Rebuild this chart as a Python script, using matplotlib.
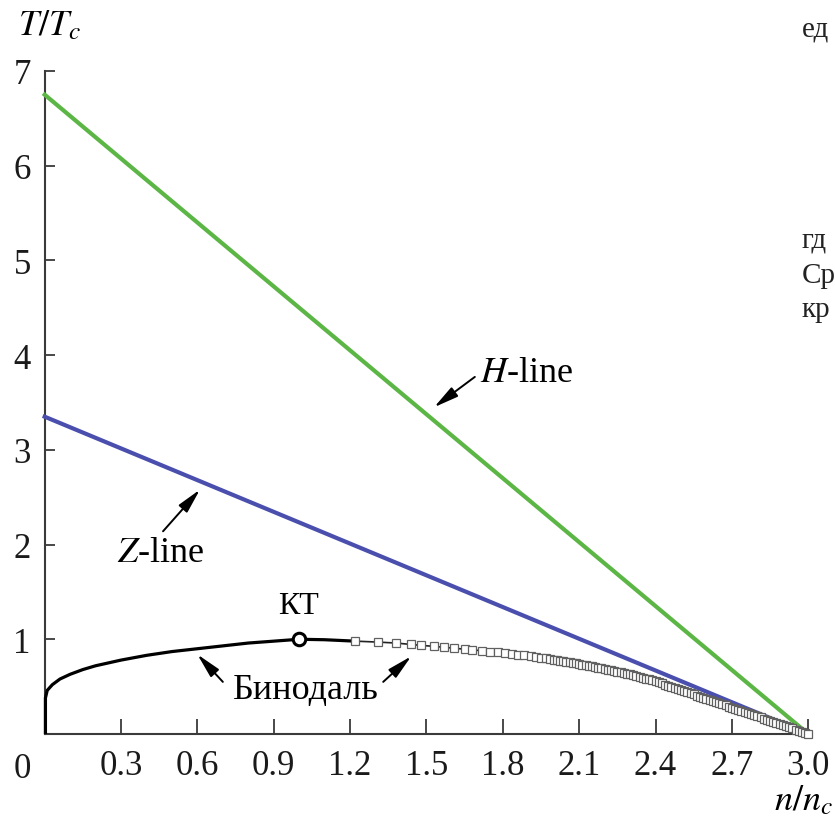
import matplotlib
matplotlib.use('Agg')
import matplotlib.pyplot as plt

plt.rcParams['mathtext.fontset'] = 'stix'
plt.rcParams['font.family'] = ['Liberation Serif', 'DejaVu Serif']

# H-line und Z-line (Geraden bis n/n_c = 3)
h_x = [0.0, 3.0]
h_y = [6.75, 0.0]
z_x = [0.0, 3.0]
z_y = [3.35, 0.0]

# Binodale, durchgezogener Teil
bin_x = [0.003, 0.003, 0.01, 0.03, 0.06, 0.10, 0.15, 0.20, 0.30, 0.40, 0.50,
         0.60, 0.70, 0.80, 0.90, 1.00, 1.10, 1.22]
bin_y = [0.0, 0.38, 0.46, 0.52, 0.58, 0.63, 0.68, 0.72, 0.78, 0.83, 0.87,
         0.90, 0.93, 0.96, 0.98, 1.00, 0.995, 0.98]

# Binodale, Punkte (offene Quadrate)
sq_x = [1.22, 1.31, 1.38, 1.44, 1.48, 1.53, 1.57, 1.61, 1.65, 1.68, 1.72, 1.75,
        1.78, 1.81, 1.835, 1.86, 1.885, 1.91, 1.93, 1.95, 1.97, 1.985,
        2.0000, 2.0125, 2.0250, 2.0375, 2.0500, 2.0625, 2.0750, 2.0875,
        2.1000, 2.1125, 2.1250, 2.1375, 2.1500, 2.1625, 2.1750, 2.1875,
        2.2000, 2.2125, 2.2250, 2.2375, 2.2500, 2.2625, 2.2750, 2.2875,
        2.3000, 2.3125, 2.3250, 2.3375, 2.3500, 2.3625, 2.3750, 2.3875,
        2.4000, 2.4125, 2.4250, 2.4375, 2.4500, 2.4625, 2.4750, 2.4875,
        2.5000, 2.5125, 2.5250, 2.5375, 2.5500, 2.5625, 2.5750, 2.5875,
        2.6000, 2.6125, 2.6250, 2.6375, 2.6500, 2.6625, 2.6750, 2.6875,
        2.7000, 2.7125, 2.7250, 2.7375, 2.7500, 2.7625, 2.7750, 2.7875,
        2.8000, 2.8125, 2.8250, 2.8375, 2.8500, 2.8625, 2.8750, 2.8875,
        2.9000, 2.9125, 2.9250, 2.9375, 2.9500, 2.9625, 2.9750, 2.9875,
        3.0000]
sq_y = [0.980, 0.970, 0.960, 0.945, 0.935, 0.925, 0.915, 0.905, 0.895, 0.888,
        0.878, 0.870, 0.862, 0.853, 0.846, 0.838, 0.829, 0.820, 0.813, 0.806,
        0.798, 0.792,
        0.786, 0.780, 0.775, 0.769, 0.763, 0.757, 0.751, 0.745,
        0.739, 0.733, 0.726, 0.720, 0.713, 0.707, 0.700, 0.694,
        0.687, 0.680, 0.673, 0.666, 0.659, 0.651, 0.644, 0.636,
        0.628, 0.620, 0.612, 0.603, 0.594, 0.585, 0.576, 0.566,
        0.556, 0.544, 0.533, 0.521, 0.510, 0.498, 0.487, 0.475,
        0.463, 0.452, 0.440, 0.429, 0.417, 0.405, 0.394, 0.382,
        0.371, 0.359, 0.347, 0.336, 0.324, 0.313, 0.301, 0.290,
        0.278, 0.266, 0.255, 0.243, 0.232, 0.220, 0.208, 0.197,
        0.185, 0.174, 0.162, 0.151, 0.139, 0.127, 0.116, 0.104,
        0.093, 0.081, 0.069, 0.058, 0.046, 0.035, 0.023, 0.012,
        0.000]

# kritischer Punkt
kt_x = [1.0]
kt_y = [1.0]

x_ticks = [0.3, 0.6, 0.9, 1.2, 1.5, 1.8, 2.1, 2.4, 2.7, 3.0]
x_labels = ['0.3', '0.6', '0.9', '1.2', '1.5', '1.8', '2.1', '2.4', '2.7', '3.0']
y_ticks = [1, 2, 3, 4, 5, 6, 7]
y_labels = ['1', '2', '3', '4', '5', '6', '7']

fig = plt.figure(figsize=(8.35, 8.2), dpi=100)
ax = fig.add_axes([0.0535, 0.1037, 0.9145, 0.8085])
ax.set_xlim(0, 3.0)
ax.set_ylim(0, 7)

ax.plot(h_x, h_y, color='#5cb646', lw=3.0, clip_on=False, zorder=3)
ax.plot(z_x, z_y, color='#4a4fae', lw=3.0, clip_on=False, zorder=3)
ax.plot(bin_x, bin_y, color='black', lw=2.3, clip_on=False, zorder=4,
        solid_capstyle='butt')
ax.plot(sq_x, sq_y, color='#222222', lw=1.2, marker='s', markersize=5.6,
        markerfacecolor='white', markeredgecolor='#606060', markeredgewidth=0.9,
        clip_on=False, zorder=5)
ax.plot(kt_x, kt_y, marker='o', markersize=9, markerfacecolor='white',
        markeredgecolor='black', markeredgewidth=2.2, zorder=6, clip_on=False)

# Achsen
for s in ['top', 'right']:
    ax.spines[s].set_visible(False)
for s in ['left', 'bottom']:
    ax.spines[s].set_color('#3a3a3a')
    ax.spines[s].set_linewidth(1.5)

ax.set_xticks(x_ticks)
ax.set_xticklabels(x_labels)
ax.set_yticks(y_ticks)
ax.set_yticklabels(y_labels)
ax.tick_params(axis='x', direction='in', length=10.5, width=1.3, color='#3a3a3a',
               labelsize=25, pad=11, labelcolor='#1a1a1a')
ax.tick_params(axis='y', direction='in', length=7, width=1.3, color='#3a3a3a',
               labelsize=25, pad=10, labelcolor='#1a1a1a')

ax.text(-0.088, -0.36, '0', fontsize=25, ha='center', va='center', color='#1a1a1a')

fig.text(0.059, 0.957, r'$T/T_c$', fontsize=26, ha='center', va='baseline')
fig.text(0.962, 0.012, r'$n/n_c$', fontsize=26, ha='center', va='baseline')

# Beschriftungen
arr = dict(arrowstyle='-|>,head_length=0.75,head_width=0.17', color='black',
           lw=1.4, mutation_scale=20, shrinkA=0, shrinkB=0)
ax.text(1.71, 3.82, r'$H$-line', fontsize=26, ha='left', va='center')
ax.annotate('', xy=(1.53, 3.45), xytext=(1.69, 3.77), arrowprops=arr)

ax.text(0.455, 1.92, r'$Z$-line', fontsize=26, ha='center', va='center')
ax.annotate('', xy=(0.61, 2.58), xytext=(0.465, 2.14), arrowprops=arr)

ax.text(0.996, 1.36, 'КТ', fontsize=23, ha='center', va='center')

ax.text(1.027, 0.47, 'Бинодаль', fontsize=26, ha='center', va='center')
ax.annotate('', xy=(0.60, 0.84), xytext=(0.70, 0.55), arrowprops=arr)
ax.annotate('', xy=(1.44, 0.82), xytext=(1.33, 0.55), arrowprops=arr)

# Reste des Seitentextes rechts
side = dict(fontsize=21, ha='left', va='baseline', color='#222222')
fig.text(0.960, 0.955, 'ед', **side)
fig.text(0.960, 0.698, 'гд', **side)
fig.text(0.960, 0.655, 'Ср', **side)
fig.text(0.960, 0.613, 'кр', **side)

fig.savefig('out.png', dpi=100)
